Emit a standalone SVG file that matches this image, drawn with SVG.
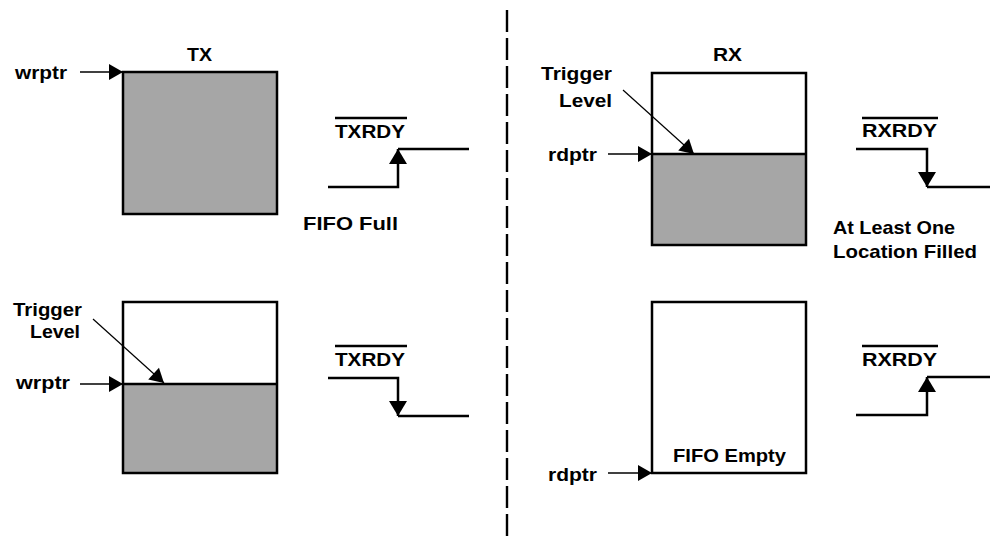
<svg xmlns="http://www.w3.org/2000/svg" width="990" height="536" viewBox="0 0 990 536">
<style>
text{font-family:"Liberation Sans",Arial,sans-serif;font-weight:bold;font-size:19px;fill:#000}
.box{fill:none;stroke:#000;stroke-width:2.5}
.fill{fill:#a6a6a6;stroke:none}
.lvl{stroke:#000;stroke-width:2.5}
.sig{fill:none;stroke:#000;stroke-width:2.5}
.ptr{fill:none;stroke:#000;stroke-width:1.4}
.lead{fill:none;stroke:#000;stroke-width:1.2}
.ovl{stroke:#000;stroke-width:2.5}
.div{stroke:#000;stroke-width:2.4;stroke-dasharray:22 6}
</style>
<defs>
<marker id="ah" markerUnits="userSpaceOnUse" markerWidth="14" markerHeight="16" refX="14" refY="8" orient="auto" overflow="visible">
<path d="M0,0 L14,8 L0,16 z" fill="#000"/>
</marker>
<marker id="sah" markerUnits="userSpaceOnUse" markerWidth="15" markerHeight="18" refX="15" refY="9" orient="auto" overflow="visible">
<path d="M0,0 L15,9 L0,18 z" fill="#000"/>
</marker>
</defs>

<line id="divider" class="div" x1="507" y1="10" x2="507" y2="536"/>

<g id="tx-full">
<rect class="fill" x="123" y="72" width="154" height="142"/>
<rect class="box" x="123" y="72" width="154" height="142"/>
<text x="187" y="61" textLength="25" lengthAdjust="spacingAndGlyphs">TX</text>
<text x="15" y="79" textLength="52" lengthAdjust="spacingAndGlyphs">wrptr</text>
</g>

<g id="tx-full-signal">
<line class="ovl" x1="335" y1="118" x2="407" y2="118"/>
<text x="335" y="138" textLength="70" lengthAdjust="spacingAndGlyphs">TXRDY</text>
<text x="303" y="230" textLength="95" lengthAdjust="spacingAndGlyphs">FIFO Full</text>
</g>

<g id="tx-trigger">
<rect class="fill" x="123" y="384" width="154" height="89"/>
<rect class="box" x="123" y="302" width="154" height="171"/>
<line class="lvl" x1="123" y1="384" x2="277" y2="384"/>
<text x="13" y="316" textLength="69" lengthAdjust="spacingAndGlyphs">Trigger</text>
<text x="30" y="338" textLength="50" lengthAdjust="spacingAndGlyphs">Level</text>
<text x="16" y="389" textLength="54" lengthAdjust="spacingAndGlyphs">wrptr</text>
</g>

<g id="tx-trigger-signal">
<line class="ovl" x1="335" y1="346" x2="407" y2="346"/>
<text x="335" y="366" textLength="70" lengthAdjust="spacingAndGlyphs">TXRDY</text>
</g>

<g id="rx-trigger">
<rect class="fill" x="652" y="154" width="154" height="91"/>
<rect class="box" x="652" y="73" width="154" height="172"/>
<line class="lvl" x1="652" y1="154" x2="806" y2="154"/>
<text x="713" y="61" textLength="29" lengthAdjust="spacingAndGlyphs">RX</text>
<text x="541" y="80" textLength="71" lengthAdjust="spacingAndGlyphs">Trigger</text>
<text x="559" y="107" textLength="53" lengthAdjust="spacingAndGlyphs">Level</text>
<text x="548" y="161" textLength="49" lengthAdjust="spacingAndGlyphs">rdptr</text>
</g>

<g id="rx-trigger-signal">
<line class="ovl" x1="862" y1="118" x2="938" y2="118"/>
<text x="862" y="137" textLength="75" lengthAdjust="spacingAndGlyphs">RXRDY</text>
<text x="833" y="234" textLength="122" lengthAdjust="spacingAndGlyphs">At Least One</text>
<text x="833" y="258" textLength="144" lengthAdjust="spacingAndGlyphs">Location Filled</text>
</g>

<g id="rx-empty">
<rect class="box" x="652" y="302" width="154" height="171"/>
<text x="673" y="462" textLength="113" lengthAdjust="spacingAndGlyphs">FIFO Empty</text>
<text x="548" y="481" textLength="49" lengthAdjust="spacingAndGlyphs">rdptr</text>
</g>

<g id="rx-empty-signal">
<line class="ovl" x1="862" y1="346" x2="938" y2="346"/>
<text x="862" y="366" textLength="75" lengthAdjust="spacingAndGlyphs">RXRDY</text>
</g>

<g id="connectors">
<line class="ptr" x1="80" y1="72" x2="123" y2="72" marker-end="url(#ah)"/>
<line class="ptr" x1="80" y1="384" x2="123" y2="384" marker-end="url(#ah)"/>
<line class="lead" x1="93" y1="319" x2="164" y2="383" marker-end="url(#ah)"/>
<line class="ptr" x1="608" y1="154" x2="652" y2="154" marker-end="url(#ah)"/>
<line class="lead" x1="623" y1="90" x2="694" y2="154" marker-end="url(#ah)"/>
<line class="ptr" x1="608" y1="473" x2="652" y2="473" marker-end="url(#ah)"/>

<path class="sig" d="M328,187 H398 V149" marker-end="url(#sah)"/>
<path class="sig" d="M398,149 H469"/>
<path class="sig" d="M328,378 H398 V416" marker-end="url(#sah)"/>
<path class="sig" d="M398,416 H469"/>
<path class="sig" d="M856,149 H927 V187" marker-end="url(#sah)"/>
<path class="sig" d="M927,187 H990"/>
<path class="sig" d="M856,415 H927 V377" marker-end="url(#sah)"/>
<path class="sig" d="M927,377 H990"/>
</g>
</svg>
